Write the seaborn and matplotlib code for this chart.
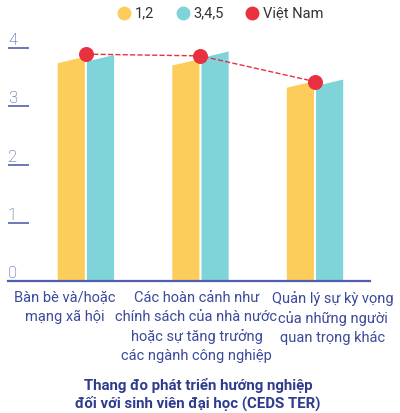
import pandas as pd
import matplotlib.pyplot as plt
import matplotlib.transforms as mtransforms
import seaborn as sns
from matplotlib.patches import Polygon
from matplotlib.lines import Line2D

# values
groups = ['Bàn bè và/hoặc\nmạng xã hội',
          'Các hoàn cảnh như\nchính sách của nhà nước\nhoặc sự tăng trưởng\ncác ngành công nghiệp',
          'Quản lý sự kỳ vọng\ncủa những người\nquan trọng khác']
cohorts = ['1,2', '3,4,5']
vals_12 = [3.79, 3.75, 3.37]
vals_345 = [3.82, 3.88, 3.40]
vals_vn = [3.89, 3.86, 3.42]
yticks = [0, 1, 2, 3, 4]

YELLOW = '#FDCD5B'
TEAL = '#7ED4D8'
RED = '#E8303F'
BLUE = '#3B4A9C'
LINE_BLUE = '#5060AE'

df = pd.DataFrame({
    'group': groups * 2,
    'cohort': [cohorts[0]] * 3 + [cohorts[1]] * 3,
    'value': vals_12 + vals_345,
})

sns.set_style('white')
plt.rcParams['font.family'] = ['Roboto', 'DejaVu Sans']

fig = plt.figure(figsize=(4, 4.13), dpi=100)
ax = fig.add_axes([0.02, 0.3189, 0.905, 0.6221])

sns.barplot(data=df, x='group', y='value', hue='cohort', palette=[YELLOW, TEAL],
            width=0.51, gap=0.07, saturation=1, legend=False, errorbar=None, ax=ax)

# give the bars a slanted top like the original
slant = 0.11
for bar in list(ax.patches):
    x0, w, h = bar.get_x(), bar.get_width(), bar.get_height()
    poly = Polygon([(x0, 0), (x0 + w, 0), (x0 + w, h + slant / 2), (x0, h - slant / 2)],
                   closed=True, facecolor=bar.get_facecolor(), edgecolor='none', zorder=1)
    bar.remove()
    ax.add_patch(poly)

sns.pointplot(x=groups, y=vals_vn, color=RED, linestyle='--', linewidth=1,
              markersize=10, errorbar=None, ax=ax)

ax.set_xlim(-0.68, 2.48)
ax.set_ylim(0, 4.4)
ax.set_xlabel('')
ax.set_ylabel('')

ax.set_yticks(yticks)
ax.set_yticklabels([str(t) for t in yticks], ha='left', va='bottom',
                   color=BLUE, fontsize=12, fontweight='light')
ax.tick_params(axis='y', left=True, direction='in', length=15, width=1.2,
               color=LINE_BLUE, pad=0)
ax.tick_params(axis='x', length=0, pad=7, labelsize=10.5, labelcolor=BLUE)

# the category labels are nudged sideways in the original
label_shift = [-21, -4, 18]
for lbl, dx in zip(ax.get_xticklabels(), label_shift):
    lbl.set_linespacing(1.45)
    lbl.set_ha('center')
    lbl.set_transform(lbl.get_transform() +
                      mtransforms.ScaledTranslation(dx / 100, 0, fig.dpi_scale_trans))

for s in ['top', 'right', 'left']:
    ax.spines[s].set_visible(False)
ax.spines['bottom'].set_color(LINE_BLUE)
ax.spines['bottom'].set_linewidth(1.6)

handles = [Line2D([], [], marker='o', linestyle='none', markersize=10,
                  markerfacecolor=c, markeredgecolor='none') for c in [YELLOW, TEAL, RED]]
fig.legend(handles, cohorts + ['Việt Nam'], loc='center', bbox_to_anchor=(0.55, 0.967),
           ncol=3, frameon=False, fontsize=10.5, handletextpad=0.2, columnspacing=1.5,
           labelcolor='#333333', handlelength=1.0)

fig.text(0.495, 0.045, 'Thang đo phát triển hướng nghiệp\nđối với sinh viên đại học (CEDS TER)',
         ha='center', va='center', color='#2E3C8E', fontsize=10.8, fontweight='bold',
         linespacing=1.25)

fig.savefig('out.png', dpi=100)
